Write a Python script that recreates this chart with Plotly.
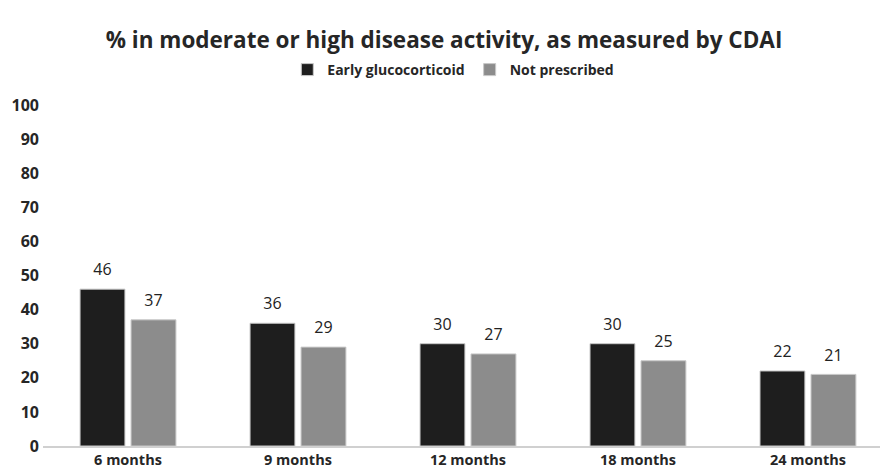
import plotly.graph_objects as go

categories = ["6 months", "9 months", "12 months", "18 months", "24 months"]
early = [46, 36, 30, 30, 22]
not_prescribed = [37, 29, 27, 25, 21]
y_ticks = [0, 10, 20, 30, 40, 50, 60, 70, 80, 90, 100]

FONT = "Open Sans"

fig = go.Figure()
fig.add_trace(go.Bar(
    x=categories, y=early, name="Early glucocorticoid",
    marker=dict(color="#1e1e1e", line=dict(color="#c8c8c8", width=1)),
))
fig.add_trace(go.Bar(
    x=categories, y=not_prescribed, name="Not prescribed",
    marker=dict(color="#8c8c8c", line=dict(color="#c8c8c8", width=1)),
))
# value labels, placed over the grouped bars
for vals in (early, not_prescribed):
    fig.add_trace(go.Scatter(
        x=categories, y=vals, mode="markers+text", text=vals,
        textposition="top center",
        textfont=dict(family=FONT, size=16, color="#222"),
        marker=dict(size=14, opacity=0, color="white"),
        showlegend=False, hoverinfo="skip", cliponaxis=False,
    ))

fig.update_layout(
    width=888, height=468,
    margin=dict(l=35, r=0, t=97, b=30, autoexpand=False),
    paper_bgcolor="white", plot_bgcolor="white",
    barmode="group", bargap=0.4, bargroupgap=0.12,
    scattermode="group", scattergap=0.4,
    title=dict(text="% in moderate or high disease activity, as measured by CDAI",
               x=0.491, xanchor="center", y=0.932, yanchor="middle",
               font=dict(family=FONT, size=22.5, color="#262626", weight="bold")),
    legend=dict(orientation="h", x=0.481, xanchor="center", y=1.1026, yanchor="middle",
                font=dict(family=FONT, size=14, color="#262626", weight="bold"),
                itemwidth=30, traceorder="normal"),
    showlegend=True,
)
fig.update_yaxes(range=[0, 100], tickvals=y_ticks, showgrid=False, zeroline=False,
                 showline=False, ticks="", ticklabelstandoff=3, automargin=False,
                 tickfont=dict(family=FONT, size=16, color="#262626", weight="bold"))
fig.update_xaxes(range=[-0.5, 4.518], showline=True, linecolor="#d0d0d0", linewidth=2,
                 ticks="", automargin=False, ticklabelstandoff=0,
                 tickfont=dict(family=FONT, size=14.5, color="#262626", weight="bold"))

fig.write_html("out.html")
